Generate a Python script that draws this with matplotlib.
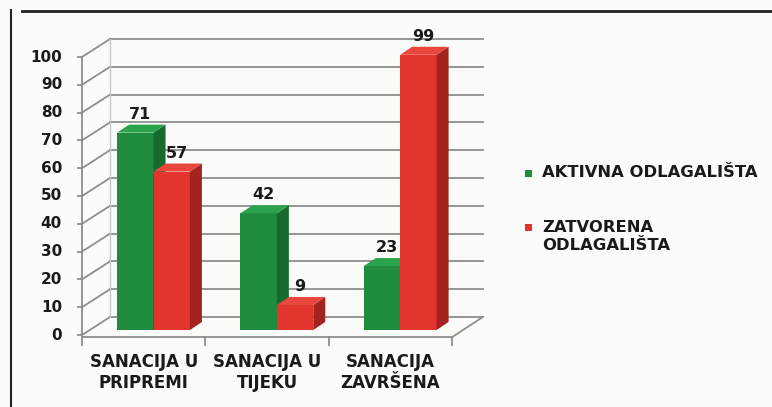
import numpy as np
import matplotlib.pyplot as plt
from matplotlib.patches import Polygon, Rectangle

categories = ["SANACIJA U\nPRIPREMI", "SANACIJA U\nTIJEKU", "SANACIJA\nZAVRŠENA"]
aktivna = [71, 42, 23]
zatvorena = [57, 9, 99]
yticks = [0, 10, 20, 30, 40, 50, 60, 70, 80, 90, 100]
series_names = ["AKTIVNA ODLAGALIŠTA", "ZATVORENA\nODLAGALIŠTA"]

plt.rcParams['font.family'] = ['DejaVu Sans']

W, H = 772, 407
fig = plt.figure(figsize=(W / 100, H / 100), dpi=100)
fig.patch.set_facecolor('#fbfbf9')
ax = fig.add_axes([0, 0, 1, 1])
ax.set_facecolor('none')

# map data units to pixels: x=0 -> px 82, x=3 -> px 452; y=0 -> px 335, y=100 -> px 57
px_x = (452 - 82) / 3.0
px_y = (335 - 57) / 100.0
ax.set_xlim(-82 / px_x, (W - 82) / px_x)
ax.set_ylim(-(H - 335) / px_y, 100 + 57 / px_y)
ax.axis('off')

# depth of the floor / back wall and of the bars
ddx, ddy = 28 / px_x, 18 / px_y
bdx, bdy = 12 / px_x, 8 / px_y
base_dy = 1.8

grid_c = '#8e8e8e'
txt_c = '#1a1a1a'
n = len(categories)

# back wall grid and left wall diagonals
for t in yticks:
    ax.plot([ddx, n + ddx * 1.1], [t + ddy, t + ddy], color=grid_c, lw=1.3, zorder=1)
    ax.plot([0, ddx], [t, t + ddy], color=grid_c, lw=1.3, zorder=1)
    ax.plot([-0.035, 0], [t, t], color=grid_c, lw=1.3, zorder=1)
    ax.text(-20 / px_x, t, str(t), ha='right', va='center', fontsize=11,
            fontweight='bold', color=txt_c)
ax.plot([0, 0], [0, 100], color=grid_c, lw=1.3, zorder=1)
ax.plot([ddx, ddx], [ddy, 100 + ddy], color='#c8c8c8', lw=1, zorder=1)
# floor
ax.plot([0, n], [-0.8, -0.8], color=grid_c, lw=1.3, zorder=1)
ax.plot([n, n + ddx * 1.1], [-0.8, ddy], color=grid_c, lw=1.3, zorder=1)
for i in range(n + 1):
    ax.plot([i, i], [-0.8, -3.5], color=grid_c, lw=1.3, zorder=1)

# bars (front faces via ax.bar, depth faces as polygons)
w = 0.295
x = np.arange(n) + 0.5 + 0.08
colors = [('#1f8c3d', '#166a2d', '#2ba34c'), ('#e1352d', '#a3231e', '#e9473c')]
for k, vals in enumerate([aktivna, zatvorena]):
    front, side, top = colors[k]
    xs = x + (k - 1) * w + w / 2
    bars = ax.bar(xs, vals, width=w, bottom=base_dy, color=front,
                  edgecolor='none', zorder=3 + k)
    for b, v in zip(bars, vals):
        x0, x1 = b.get_x(), b.get_x() + b.get_width()
        y0, y1 = base_dy, base_dy + v
        ax.add_patch(Polygon([[x1, y0], [x1 + bdx, y0 + bdy], [x1 + bdx, y1 + bdy], [x1, y1]],
                             closed=True, facecolor=side, edgecolor='none', zorder=3 + k))
        ax.add_patch(Polygon([[x0, y1], [x0 + bdx, y1 + bdy], [x1 + bdx, y1 + bdy], [x1, y1]],
                             closed=True, facecolor=top, edgecolor='none', zorder=3 + k))
        ax.text((x0 + x1) / 2 + bdx * 0.4, y1 + bdy + 1.0, str(v), ha='center', va='bottom',
                fontsize=11.5, fontweight='bold', color=txt_c, zorder=6)

for i, c in enumerate(categories):
    ax.text(i + 0.5, -6.3, c, ha='center', va='top', fontsize=12, fontweight='bold',
            color=txt_c, linespacing=1.25)

# legend: square marker aligned with the first text line
leg_y = [173, 228]
for k, (name, y) in enumerate(zip(series_names, leg_y)):
    fy = 1 - y / H
    fig.add_artist(Rectangle((525 / W, fy - 3.5 / H), 7 / W, 7 / H,
                             transform=fig.transFigure, facecolor=colors[k][0],
                             edgecolor='none'))
    fig.text(542 / W, fy + 8.5 / H, name, ha='left', va='top', fontsize=11.8,
             fontweight='bold', color=txt_c, linespacing=1.25)

# outer frame
fig.add_artist(plt.Line2D([22 / W, 1], [1 - 11 / H, 1 - 11 / H], color='#222222', lw=2))
fig.add_artist(plt.Line2D([11 / W, 11 / W], [0, 1 - 10 / H], color='#222222', lw=1.5))

fig.savefig('out.png', dpi=100, facecolor=fig.get_facecolor())
